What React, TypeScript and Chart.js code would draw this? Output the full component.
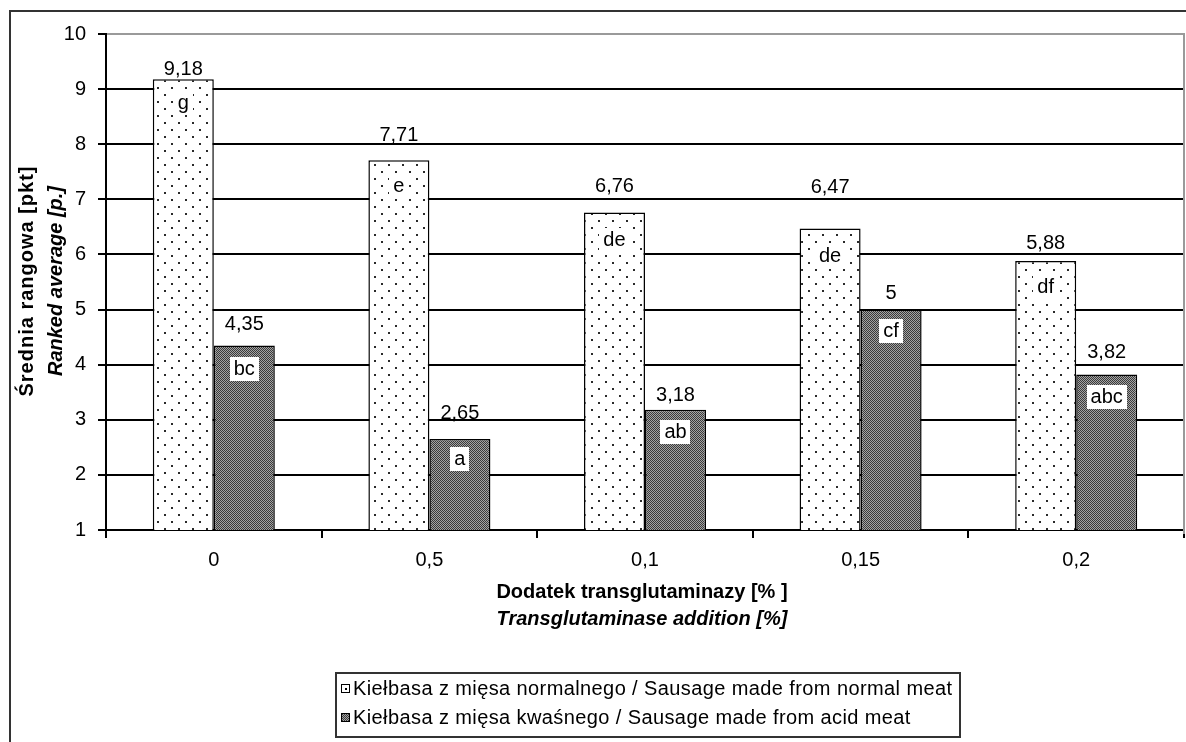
import React, { useEffect, useRef } from 'react';
import { Chart, registerables } from 'chart.js';

Chart.register(...registerables);

// ---- data ----
const categories = ['0', '0,5', '0,1', '0,15', '0,2'];
const normalMeat = [9.18, 7.71, 6.76, 6.47, 5.88];
const acidMeat = [4.35, 2.65, 3.18, 5.0, 3.82];
const normalLetters = ['g', 'e', 'de', 'de', 'df'];
const acidLetters = ['bc', 'a', 'ab', 'cf', 'abc'];
const seriesNames = [
  'Kiełbasa z mięsa normalnego / Sausage made from normal meat',
  'Kiełbasa z mięsa kwaśnego / Sausage made from acid meat',
];
const yMin = 1;
const yMax = 10;
const yStep = 1;
const yTitleLines = ['Średnia rangowa [pkt]', 'Ranked average [p.]'];
const xTitleLines = ['Dodatek transglutaminazy [% ]', 'Transglutaminase addition [%]'];

const FONT = '"Liberation Sans", Arial, Helvetica, sans-serif';

function makeDotPattern(): CanvasPattern | string {
  const c = document.createElement('canvas');
  c.width = 14;
  c.height = 14;
  const g = c.getContext('2d');
  if (!g) return '#fff';
  g.fillStyle = '#ffffff';
  g.fillRect(0, 0, 14, 14);
  g.fillStyle = '#2a2a2a';
  g.fillRect(3, 3, 2, 2);
  g.fillRect(10, 10, 2, 2);
  return g.createPattern(c, 'repeat') || '#fff';
}

function makeDarkPattern(): CanvasPattern | string {
  const c = document.createElement('canvas');
  c.width = 2;
  c.height = 2;
  const g = c.getContext('2d');
  if (!g) return '#6e6e6e';
  g.fillStyle = '#a4a4a4';
  g.fillRect(0, 0, 2, 2);
  g.fillStyle = '#3a3a3a';
  g.fillRect(0, 0, 1, 1);
  g.fillRect(1, 1, 1, 1);
  return g.createPattern(c, 'repeat') || '#6e6e6e';
}

const fmt = (v: number) => String(v).replace('.', ',');

const decorPlugin = {
  id: 'decor',
  beforeDraw(chart: any) {
    const { ctx, width, height } = chart;
    ctx.save();
    ctx.fillStyle = '#ffffff';
    ctx.fillRect(0, 0, width, height);
    ctx.strokeStyle = '#333333';
    ctx.lineWidth = 2;
    ctx.strokeRect(10, 11, width + 40, height + 40);
    ctx.restore();
  },
  beforeDatasetsDraw(chart: any) {
    const { ctx, chartArea } = chart;
    ctx.save();
    ctx.strokeStyle = '#9a9a9a';
    ctx.lineWidth = 2;
    ctx.beginPath();
    ctx.moveTo(chartArea.right, chartArea.top - 1);
    ctx.lineTo(chartArea.right, chartArea.bottom + 4);
    ctx.stroke();
    ctx.restore();
  },
  afterDatasetsDraw(chart: any, _args: any, opts: any) {
    const { ctx } = chart;
    ctx.save();
    ctx.font = `20px ${FONT}`;
    ctx.textAlign = 'center';
    ctx.textBaseline = 'alphabetic';
    [0, 1].forEach((di) => {
      const meta = chart.getDatasetMeta(di);
      const values = chart.data.datasets[di].data as number[];
      const letters = opts.letters[di];
      meta.data.forEach((bar: any, i: number) => {
        const { x, y } = bar.getProps(['x', 'y'], true);
        ctx.fillStyle = '#000';
        ctx.fillText(fmt(values[i]), x, y - opts.valueLift[di][i] + 7);
        const cy = y + opts.letterDrop[di][i];
        const w = ctx.measureText(letters[i]).width + 8;
        ctx.fillStyle = '#ffffff';
        ctx.fillRect(Math.round(x - w / 2), Math.round(cy - 12), Math.round(w), 24);
        ctx.fillStyle = '#000';
        ctx.fillText(letters[i], x, cy + 6);
      });
    });
    ctx.restore();
  },
  afterDraw(chart: any, _args: any, opts: any) {
    const { ctx, chartArea } = chart;
    ctx.save();
    ctx.fillStyle = '#000';
    const cy = (chartArea.top + chartArea.bottom) / 2 - 1;
    ctx.textAlign = 'center';
    ctx.textBaseline = 'alphabetic';
    ctx.save();
    ctx.translate(33, cy);
    ctx.rotate(-Math.PI / 2);
    ctx.font = `bold 20px ${FONT}`;
    (ctx as any).letterSpacing = '1px';
    ctx.fillText(yTitleLines[0], 0, 0);
    ctx.restore();
    ctx.save();
    ctx.translate(62, cy);
    ctx.rotate(-Math.PI / 2);
    ctx.font = `italic bold 20px ${FONT}`;
    ctx.fillText(yTitleLines[1], 0, 0);
    ctx.restore();

    const cx = (chartArea.left + chartArea.right) / 2 - 3;
    ctx.font = `bold 20px ${FONT}`;
    ctx.fillText(xTitleLines[0], cx, 598);
    ctx.font = `italic bold 20px ${FONT}`;
    ctx.fillText(xTitleLines[1], cx, 625);

    // legend
    ctx.strokeStyle = '#333333';
    ctx.lineWidth = 2;
    ctx.strokeRect(336, 673, 624, 64);
    const fills = opts.legendFills;
    const baselines = [695, 724];
    ctx.textAlign = 'left';
    ctx.font = `20px ${FONT}`;
    (ctx as any).letterSpacing = '0.4px';
    chart.data.datasets.forEach((ds: any, i: number) => {
      const by = baselines[i];
      ctx.fillStyle = fills[i];
      ctx.fillRect(341, by - 11, 9, 9);
      ctx.strokeStyle = '#000';
      ctx.lineWidth = 1;
      ctx.strokeRect(341.5, by - 10.5, 8, 8);
      if (i === 0) {
        ctx.fillStyle = '#000';
        ctx.fillRect(345, by - 7, 2, 2);
      }
      ctx.fillStyle = '#000';
      ctx.fillText(ds.label, 353, by);
    });
    (ctx as any).letterSpacing = '0px';
    ctx.restore();
  },
};

export default function App() {
  const canvasRef = useRef<HTMLCanvasElement | null>(null);

  useEffect(() => {
    const canvas = canvasRef.current;
    if (!canvas) return;
    const dots = makeDotPattern();
    const dark = makeDarkPattern();
    Chart.defaults.font.family = FONT;
    const chart = new Chart(canvas, {
      type: 'bar',
      data: {
        labels: categories,
        datasets: [
          {
            label: seriesNames[0],
            data: normalMeat,
            backgroundColor: dots as any,
            borderColor: '#000',
            borderWidth: 1.5,
            categoryPercentage: 0.566,
            barPercentage: 1,
          },
          {
            label: seriesNames[1],
            data: acidMeat,
            backgroundColor: dark as any,
            borderColor: '#000',
            borderWidth: 1.5,
            categoryPercentage: 0.566,
            barPercentage: 1,
          },
        ],
      },
      options: {
        responsive: false,
        animation: false,
        devicePixelRatio: 1,
        layout: { padding: { left: 0, top: 34, right: 2, bottom: 0 } },
        plugins: {
          legend: { display: false },
          tooltip: { enabled: false },
          decor: {
            letters: [normalLetters, acidLetters],
            valueLift: [
              [11, 26, 28, 43, 19],
              [22, 27, 16, 18, 24],
            ],
            letterDrop: [
              [24, 26, 27, 27, 26],
              [24, 20, 22, 21, 22],
            ],
            legendFills: ['#ffffff', dark],
          },
        } as any,
        scales: {
          x: {
            grid: {
              offset: true,
              drawOnChartArea: false,
              drawTicks: true,
              tickLength: 8,
              color: '#000',
              lineWidth: 2,
            },
            border: { display: true, color: '#000', width: 2 },
            ticks: { color: '#000', font: { size: 20 }, padding: 10, maxRotation: 0 },
            afterFit: (s: any) => {
              s.height = 212;
              s.paddingLeft = 0;
              s.paddingRight = 0;
            },
          },
          y: {
            min: yMin,
            max: yMax,
            ticks: { stepSize: yStep, color: '#000', font: { size: 20 }, padding: 12 },
            grid: {
              color: (c: any) => (c.tick && c.tick.value === yMax ? '#9a9a9a' : '#000'),
              lineWidth: 2,
              tickLength: 8,
              tickColor: '#000',
            },
            border: { display: true, color: '#000', width: 2 },
            afterFit: (s: any) => {
              s.width = 106;
              s.paddingTop = 0;
              s.paddingBottom = 0;
            },
          },
        },
      },
      plugins: [decorPlugin as any],
    });
    return () => chart.destroy();
  }, []);

  return (
    <div style={{ position: 'fixed', left: 0, top: 0, width: 1186, height: 742, background: '#fff' }}>
      <canvas ref={canvasRef} width={1186} height={742} style={{ display: 'block' }} />
    </div>
  );
}
